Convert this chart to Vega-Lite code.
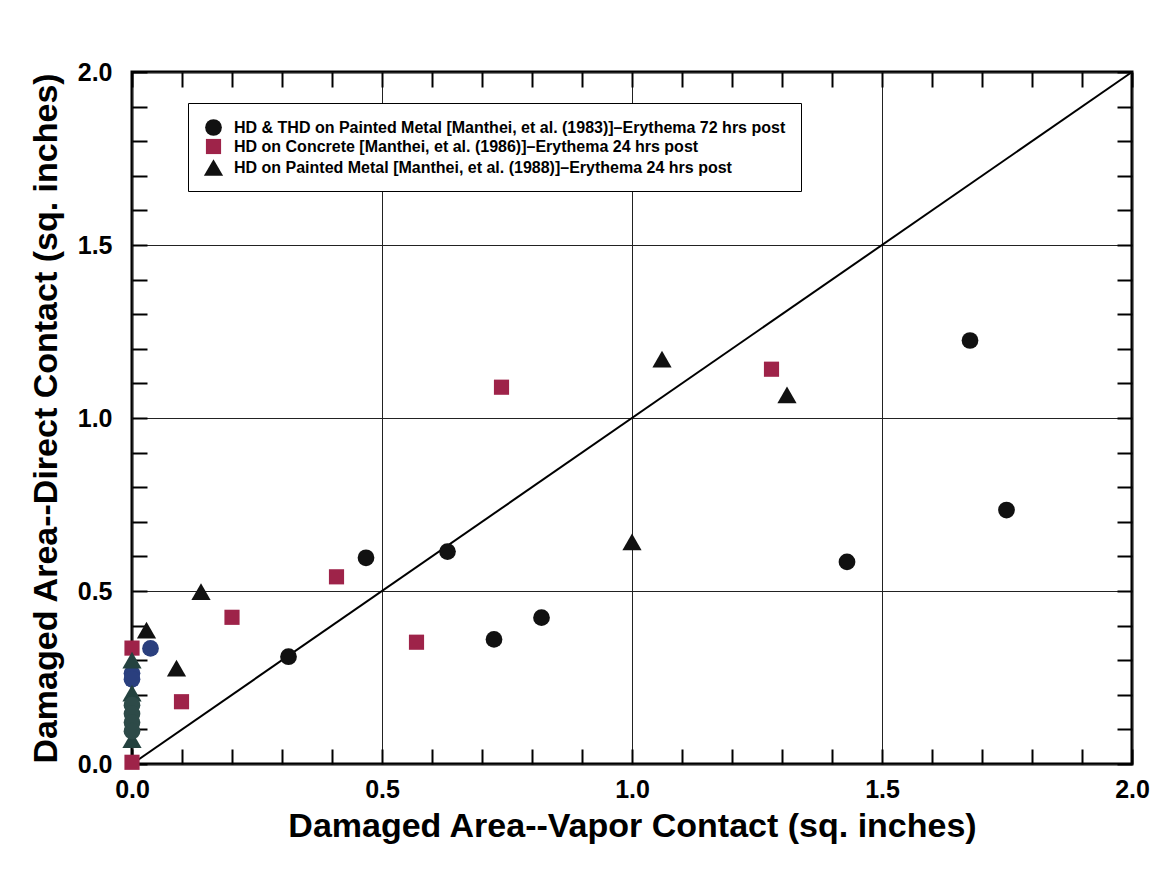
{
  "$schema": "https://vega.github.io/schema/vega-lite/v6.json",
  "autosize": "none",
  "width": 1000,
  "height": 692,
  "padding": {"left": 132, "top": 72, "right": 28, "bottom": 116},
  "background": "white",
  "config": {"view": {"stroke": "black", "strokeWidth": 3}, "font": "Liberation Sans"},
  "datasets": {
    "diag": [{"vx": 0, "dy": 0}, {"vx": 2, "dy": 2}],
    "points": [
      {"series": "HD & THD on Painted Metal [Manthei, et al. (1983)]–Erythema 72 hrs post", "vapor": 0.313, "direct": 0.31},
      {"series": "HD & THD on Painted Metal [Manthei, et al. (1983)]–Erythema 72 hrs post", "vapor": 0.468, "direct": 0.596},
      {"series": "HD & THD on Painted Metal [Manthei, et al. (1983)]–Erythema 72 hrs post", "vapor": 0.631, "direct": 0.614},
      {"series": "HD & THD on Painted Metal [Manthei, et al. (1983)]–Erythema 72 hrs post", "vapor": 0.724, "direct": 0.36},
      {"series": "HD & THD on Painted Metal [Manthei, et al. (1983)]–Erythema 72 hrs post", "vapor": 0.819, "direct": 0.423},
      {"series": "HD & THD on Painted Metal [Manthei, et al. (1983)]–Erythema 72 hrs post", "vapor": 1.43, "direct": 0.584},
      {"series": "HD & THD on Painted Metal [Manthei, et al. (1983)]–Erythema 72 hrs post", "vapor": 1.676, "direct": 1.224},
      {"series": "HD & THD on Painted Metal [Manthei, et al. (1983)]–Erythema 72 hrs post", "vapor": 1.749, "direct": 0.734},
      {"series": "HD on Concrete [Manthei, et al. (1986)]–Erythema 24 hrs post", "vapor": 0.739, "direct": 1.089},
      {"series": "HD on Concrete [Manthei, et al. (1986)]–Erythema 24 hrs post", "vapor": 0.409, "direct": 0.541},
      {"series": "HD on Concrete [Manthei, et al. (1986)]–Erythema 24 hrs post", "vapor": 0.2, "direct": 0.424},
      {"series": "HD on Concrete [Manthei, et al. (1986)]–Erythema 24 hrs post", "vapor": 0.569, "direct": 0.352},
      {"series": "HD on Concrete [Manthei, et al. (1986)]–Erythema 24 hrs post", "vapor": 0.099, "direct": 0.18},
      {"series": "HD on Concrete [Manthei, et al. (1986)]–Erythema 24 hrs post", "vapor": 1.279, "direct": 1.141},
      {"series": "HD on Concrete [Manthei, et al. (1986)]–Erythema 24 hrs post", "vapor": 0.0, "direct": 0.335},
      {"series": "HD on Concrete [Manthei, et al. (1986)]–Erythema 24 hrs post", "vapor": 0.0, "direct": 0.005},
      {"series": "HD on Painted Metal [Manthei, et al. (1988)]–Erythema 24 hrs post", "vapor": 1.06, "direct": 1.17},
      {"series": "HD on Painted Metal [Manthei, et al. (1988)]–Erythema 24 hrs post", "vapor": 1.31, "direct": 1.067},
      {"series": "HD on Painted Metal [Manthei, et al. (1988)]–Erythema 24 hrs post", "vapor": 1.0, "direct": 0.642},
      {"series": "HD on Painted Metal [Manthei, et al. (1988)]–Erythema 24 hrs post", "vapor": 0.138, "direct": 0.498},
      {"series": "HD on Painted Metal [Manthei, et al. (1988)]–Erythema 24 hrs post", "vapor": 0.029, "direct": 0.387},
      {"series": "HD on Painted Metal [Manthei, et al. (1988)]–Erythema 24 hrs post", "vapor": 0.089, "direct": 0.277},
      {"series": "Other circles", "vapor": 0.037, "direct": 0.334},
      {"series": "Other circles", "vapor": 0.0, "direct": 0.262},
      {"series": "Other circles", "vapor": 0.0, "direct": 0.245},
      {"series": "Other triangles", "vapor": 0.0, "direct": 0.3},
      {"series": "Other triangles", "vapor": 0.0, "direct": 0.205},
      {"series": "Other triangles", "vapor": 0.0, "direct": 0.07},
      {"series": "Other markers", "vapor": 0.0, "direct": 0.17},
      {"series": "Other markers", "vapor": 0.0, "direct": 0.145},
      {"series": "Other markers", "vapor": 0.0, "direct": 0.12},
      {"series": "Other markers", "vapor": 0.0, "direct": 0.095}
    ]
  },
  "layer": [
    {
      "data": {"name": "diag"},
      "mark": {"type": "line", "color": "black", "strokeWidth": 2},
      "encoding": {
        "x": {"field": "vx", "type": "quantitative", "scale": {"domain": [0, 2], "nice": false},
          "axis": {"orient": "top", "title": null, "labels": false, "grid": false, "domain": false,
            "values": [0,0.1,0.2,0.3,0.4,0.5,0.6,0.7,0.8,0.9,1,1.1,1.2,1.3,1.4,1.5,1.6,1.7,1.8,1.9,2],
            "tickSize": -15, "tickWidth": 2, "tickColor": "black"}},
        "y": {"field": "dy", "type": "quantitative", "scale": {"domain": [0, 2], "nice": false},
          "axis": {"orient": "right", "title": null, "labels": false, "grid": false, "domain": false,
            "values": [0,0.1,0.2,0.3,0.4,0.5,0.6,0.7,0.8,0.9,1,1.1,1.2,1.3,1.4,1.5,1.6,1.7,1.8,1.9,2],
            "tickSize": -15, "tickWidth": 2, "tickColor": "black"}}
      }
    },
    {
      "data": {"name": "points"},
      "mark": {"type": "point", "filled": true, "opacity": 1, "strokeWidth": 0},
      "encoding": {
        "x": {"field": "vapor", "type": "quantitative", "scale": {"domain": [0, 2], "nice": false},
          "axis": {"orient": "bottom", "title": "Damaged Area--Vapor Contact (sq. inches)",
            "values": [0,0.1,0.2,0.3,0.4,0.5,0.6,0.7,0.8,0.9,1,1.1,1.2,1.3,1.4,1.5,1.6,1.7,1.8,1.9,2],
            "labelExpr": "round(datum.value*10) % 5 == 0 ? format(datum.value, '.1f') : ''",
            "labelFont": "Liberation Sans", "labelFontWeight": "bold", "labelFontSize": 25, "labelColor": "black",
            "labelPadding": 28, "labelFlush": false, "labelOverlap": false,
            "tickSize": -15, "tickWidth": 2, "tickColor": "black", "domain": false,
            "grid": true, "gridColor": "#222222", "gridWidth": 1,
            "gridOpacity": {"condition": {"test": "round(datum.value*10) % 5 == 0", "value": 1}, "value": 0},
            "titleFont": "Liberation Sans", "titleFontWeight": "bold", "titleFontSize": 34, "titleColor": "black",
            "titleX": 500, "titleY": 62, "titleBaseline": "middle", "titleAlign": "center"}},
        "y": {"field": "direct", "type": "quantitative", "scale": {"domain": [0, 2], "nice": false},
          "axis": {"orient": "left", "title": "Damaged Area--Direct Contact (sq. inches)",
            "values": [0,0.1,0.2,0.3,0.4,0.5,0.6,0.7,0.8,0.9,1,1.1,1.2,1.3,1.4,1.5,1.6,1.7,1.8,1.9,2],
            "labelExpr": "round(datum.value*10) % 5 == 0 ? format(datum.value, '.1f') : ''",
            "labelFont": "Liberation Sans", "labelFontWeight": "bold", "labelFontSize": 25, "labelColor": "black",
            "labelPadding": 35, "labelFlush": false, "labelOverlap": false,
            "tickSize": -15, "tickWidth": 2, "tickColor": "black", "domain": false,
            "grid": true, "gridColor": "#222222", "gridWidth": 1,
            "gridOpacity": {"condition": {"test": "round(datum.value*10) % 5 == 0", "value": 1}, "value": 0},
            "titleFont": "Liberation Sans", "titleFontWeight": "bold", "titleFontSize": 34, "titleColor": "black",
            "titleX": -86, "titleY": 346, "titleAngle": -90, "titleBaseline": "middle", "titleAlign": "center"}},
        "size": {"field": "series", "type": "ordinal", "legend": null,
          "scale": {"type": "ordinal", "domain": [
            "HD & THD on Painted Metal [Manthei, et al. (1983)]–Erythema 72 hrs post",
            "HD on Concrete [Manthei, et al. (1986)]–Erythema 24 hrs post",
            "HD on Painted Metal [Manthei, et al. (1988)]–Erythema 24 hrs post",
            "Other circles", "Other triangles", "Other markers"],
            "range": [280, 230, 370, 280, 370, 280]}},
        "color": {"field": "series", "type": "nominal",
          "scale": {"domain": [
            "HD & THD on Painted Metal [Manthei, et al. (1983)]–Erythema 72 hrs post",
            "HD on Concrete [Manthei, et al. (1986)]–Erythema 24 hrs post",
            "HD on Painted Metal [Manthei, et al. (1988)]–Erythema 24 hrs post",
            "Other circles", "Other triangles", "Other markers"],
            "range": ["#111111", "#9e2349", "#111111", "#2a3f7e", "#24423f", "#2d4a48"]},
          "legend": {"orient": "none", "legendX": 56, "legendY": 31, "title": null,
            "values": [
              "HD & THD on Painted Metal [Manthei, et al. (1983)]–Erythema 72 hrs post",
              "HD on Concrete [Manthei, et al. (1986)]–Erythema 24 hrs post",
              "HD on Painted Metal [Manthei, et al. (1988)]–Erythema 24 hrs post"],
            "labelFont": "Liberation Sans", "labelFontSize": 16, "labelFontWeight": "bold", "labelColor": "black",
            "labelLimit": 0, "labelOffset": 10, "symbolSize": 190, "padding": 15, "rowPadding": 2,
            "strokeColor": "black", "fillColor": "white"}},
        "shape": {"field": "series", "type": "nominal",
          "scale": {"domain": [
            "HD & THD on Painted Metal [Manthei, et al. (1983)]–Erythema 72 hrs post",
            "HD on Concrete [Manthei, et al. (1986)]–Erythema 24 hrs post",
            "HD on Painted Metal [Manthei, et al. (1988)]–Erythema 24 hrs post",
            "Other circles", "Other triangles", "Other markers"],
            "range": ["circle", "square", "triangle-up", "circle", "triangle-up", "circle"]},
          "legend": {"orient": "none", "legendX": 56, "legendY": 31, "title": null,
            "values": [
              "HD & THD on Painted Metal [Manthei, et al. (1983)]–Erythema 72 hrs post",
              "HD on Concrete [Manthei, et al. (1986)]–Erythema 24 hrs post",
              "HD on Painted Metal [Manthei, et al. (1988)]–Erythema 24 hrs post"],
            "labelFont": "Liberation Sans", "labelFontSize": 16, "labelFontWeight": "bold", "labelColor": "black",
            "labelLimit": 0, "labelOffset": 10, "symbolSize": 190, "padding": 15, "rowPadding": 2,
            "strokeColor": "black", "fillColor": "white"}}
      }
    }
  ],
  "resolve": {"axis": {"x": "independent", "y": "independent"}}
}
